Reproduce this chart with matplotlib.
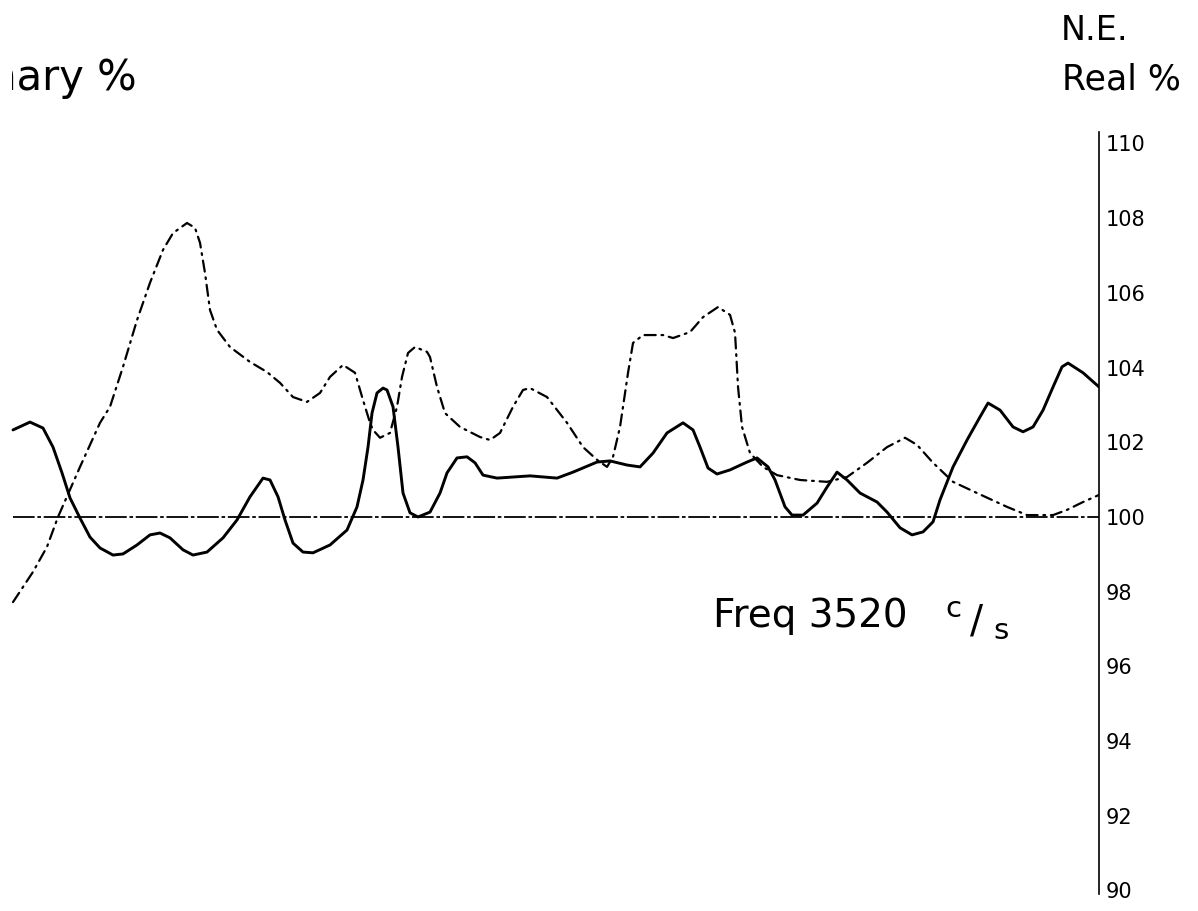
import numpy as np
import matplotlib.pyplot as plt
from matplotlib.transforms import Bbox

# horizontal position along the record (arbitrary units)
solid_x = [1.3, 3.0, 4.3, 5.3, 6.2, 7.0, 8.0, 9.0, 10.0, 11.3, 12.3, 13.7,
           15.0, 16.0, 17.0, 18.3, 19.3, 20.7, 22.3, 23.7, 25.0, 26.3, 27.0,
           27.8, 28.5, 29.3, 30.3, 31.3, 33.0, 34.7, 35.7, 36.3, 36.8, 37.2,
           37.7, 38.3, 38.7, 39.3, 39.8, 40.3, 41.0, 41.8, 43.0, 44.0, 44.7,
           45.7, 46.7, 47.5, 48.3, 49.7, 53.0, 55.7, 57.3, 59.7, 61.0, 62.7,
           64.0, 65.3, 66.7, 68.3, 69.3, 70.0, 70.8, 71.7, 73.0, 74.7, 75.7,
           76.8, 77.5, 78.5, 79.2, 80.3, 81.7, 82.7, 83.7, 84.7, 86.0, 87.7,
           88.7, 90.0, 91.2, 92.3, 93.3, 94.0, 95.3, 96.7, 98.0, 98.8, 100.0,
           101.3, 102.3, 103.3, 104.3, 105.3, 106.2, 106.8, 108.3, 109.9]
# N.E. real part, %
real_pct = [102.33, 102.54, 102.38, 101.87, 101.18, 100.51, 99.97, 99.46,
            99.17, 98.98, 99.01, 99.25, 99.52, 99.57, 99.44, 99.12, 98.98,
            99.06, 99.44, 99.92, 100.54, 101.04, 100.99, 100.54, 99.92, 99.30,
            99.06, 99.04, 99.25, 99.65, 100.27, 100.99, 101.87, 102.78, 103.32,
            103.45, 103.40, 102.95, 101.87, 100.64, 100.11, 100.0, 100.13,
            100.64, 101.18, 101.58, 101.61, 101.45, 101.12, 101.04, 101.10,
            101.04, 101.20, 101.47, 101.50, 101.39, 101.34, 101.71, 102.25,
            102.52, 102.33, 101.87, 101.31, 101.15, 101.26, 101.47, 101.58,
            101.34, 100.99, 100.27, 100.05, 100.05, 100.37, 100.80, 101.20,
            100.99, 100.64, 100.40, 100.13, 99.71, 99.52, 99.60, 99.87, 100.46,
            101.34, 102.06, 102.68, 103.05, 102.86, 102.41, 102.28, 102.41,
            102.86, 103.48, 104.02, 104.12, 103.86, 103.48]

dash_x = [1.3, 3.3, 4.7, 5.8, 8.0, 10.0, 11.0, 12.3, 13.7, 15.0, 16.3, 17.3,
          18.7, 19.5, 20.0, 20.5, 21.0, 21.7, 23.0, 25.0, 26.7, 28.0, 29.3,
          30.7, 32.0, 33.0, 34.3, 35.5, 36.3, 37.0, 37.3, 38.0, 39.0, 39.7,
          40.2, 40.8, 41.5, 42.7, 43.0, 43.7, 44.5, 46.0, 48.0, 49.0, 50.0,
          51.3, 52.3, 53.0, 54.7, 56.7, 58.3, 59.7, 60.7, 61.3, 62.0, 62.8,
          63.3, 64.3, 66.3, 67.3, 69.0, 70.3, 71.8, 73.0, 73.5, 73.8, 74.2,
          75.0, 76.3, 77.7, 80.0, 82.7, 84.7, 86.7, 88.7, 90.5, 91.7, 93.3,
          95.3, 97.7, 100.7, 102.7, 105.3, 106.7, 108.3, 109.9]
# N.E. imaginary part, %
imag_pct = [97.72, 98.53, 99.20, 100.0, 101.34, 102.52, 102.95, 104.02,
            105.27, 106.27, 107.15, 107.60, 107.87, 107.74, 107.34, 106.53,
            105.54, 105.01, 104.55, 104.15, 103.88, 103.59, 103.21, 103.08,
            103.32, 103.75, 104.07, 103.86, 103.13, 102.52, 102.33, 102.12,
            102.25, 102.95, 103.75, 104.39, 104.55, 104.42, 104.28, 103.48,
            102.78, 102.41, 102.14, 102.06, 102.25, 102.95, 103.40, 103.45,
            103.21, 102.52, 101.87, 101.53, 101.34, 101.61, 102.41, 103.86,
            104.66, 104.87, 104.87, 104.79, 104.95, 105.35, 105.62, 105.41,
            104.93, 103.48, 102.41, 101.71, 101.34, 101.12, 100.99, 100.94,
            101.07, 101.45, 101.87, 102.12, 101.93, 101.45, 100.94, 100.64,
            100.27, 100.05, 100.05, 100.19, 100.40, 100.59]

yticks = list(range(90, 111, 2))

fig = plt.figure(figsize=(11.98, 9.11), dpi=100)
ax = fig.add_axes([0, 0.01844, 0.9174, 0.8364])
ax.set_xlim(0, 109.9)
ax.set_ylim(89.9, 110.3)

# reference line at 100 %
ax.hlines(100, solid_x[0], solid_x[-1], color='black', lw=1.3,
          linestyles=[(0, (12, 1.5, 2, 1.5))])
ax.plot(solid_x, real_pct, color='black', lw=2.1,
        solid_joinstyle='round', solid_capstyle='round')
ax.plot(dash_x, imag_pct, color='black', lw=1.6,
        linestyle=(0, (5, 2.6, 0.8, 2.6)), dash_capstyle='round')

for side in ['left', 'top', 'bottom']:
    ax.spines[side].set_visible(False)
ax.spines['right'].set_linewidth(1.2)
ax.set_xticks([])
ax.yaxis.tick_right()
ax.set_yticks(yticks)
ax.set_yticklabels([str(t) for t in yticks])
ax.tick_params(axis='y', length=0, pad=5, labelsize=15)

W, H = 1198, 911
# left-hand heading runs off the trimmed edge of the sheet
imag_label = fig.text(137 / W, 1 - 90 / H, 'Imaginary %', ha='right',
                      va='baseline', fontsize=30)
imag_label.set_clip_box(Bbox.from_extents(12, 0, W, H))
imag_label.set_clip_on(True)

fig.text(1095 / W, 1 - 40 / H, 'N.E.', ha='center', va='baseline', fontsize=24)
fig.text(1121 / W, 1 - 90 / H, 'Real %', ha='center', va='baseline', fontsize=25)
fig.text(713 / W, 1 - 627 / H, 'Freq 3520', ha='left', va='baseline', fontsize=28)
fig.text(953 / W, 1 - 617 / H, 'c', ha='center', va='baseline', fontsize=21)
fig.text(977 / W, 1 - 633 / H, '/', ha='center', va='baseline', fontsize=28)
fig.text(1001 / W, 1 - 639 / H, 's', ha='center', va='baseline', fontsize=21)

fig.savefig('out.png', dpi=100, facecolor='white')
